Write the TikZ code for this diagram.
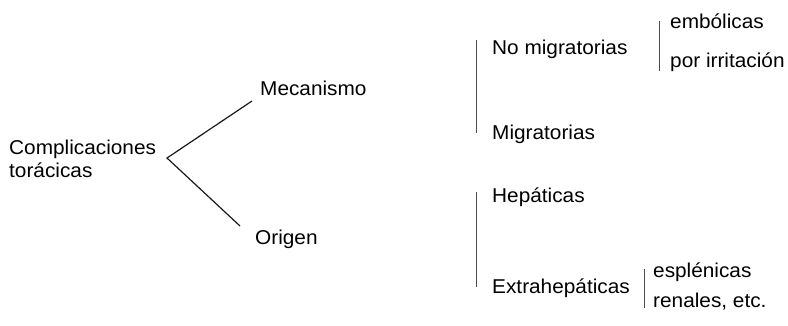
\documentclass[tikz,border=0pt]{standalone}
\usepackage{fontspec}
\setmainfont{Liberation Sans}[FakeStretch=1.04]
\begin{document}
\begin{tikzpicture}[x=1pt,y=-1pt,
  lbl/.style={anchor=base west,inner sep=0pt,font=\fontsize{20}{24}\selectfont,text=black},
  link/.style={line width=1.2pt,black!90},
  bar/.style={line width=1pt,black!70}]
\useasboundingbox (0,0) rectangle (788,325);
% root
\node[lbl] (root) at (9,154) {Complicaciones};
\node[lbl] (root2) at (9,177) {torácicas};
\node[lbl] (mec) at (260,95) {Mecanismo};
\node[lbl] (ori) at (255,244) {Origen};
\coordinate (apex) at (167,158);
\coordinate (mecend) at (252,101);
\coordinate (oriend) at (240,226);
\draw[link] (mecend) -- (apex) -- (oriend);
% mecanismo branch
\node[lbl] (nomig) at (492,54) {No migratorias};
\node[lbl] (mig) at (492,139) {Migratorias};
\coordinate (b1t) at (476,40);
\coordinate (b1b) at (476,133);
\draw[bar] (b1t) -- (b1b);
\node[lbl] (emb) at (670,28) {embólicas};
\node[lbl] (irr) at (670,67) {por irritación};
\coordinate (b2t) at (659,21);
\coordinate (b2b) at (659,71);
\draw[bar] (b2t) -- (b2b);
% origen branch
\node[lbl] (hep) at (492,202) {Hepáticas};
\node[lbl] (ext) at (492,293) {Extrahepáticas};
\coordinate (b3t) at (476,192);
\coordinate (b3b) at (476,287);
\draw[bar] (b3t) -- (b3b);
\node[lbl] (esp) at (653,277) {esplénicas};
\node[lbl] (ren) at (653,307) {renales, etc.};
\coordinate (b4t) at (644,269);
\coordinate (b4b) at (644,308);
\draw[bar] (b4t) -- (b4b);
\end{tikzpicture}
\end{document}
